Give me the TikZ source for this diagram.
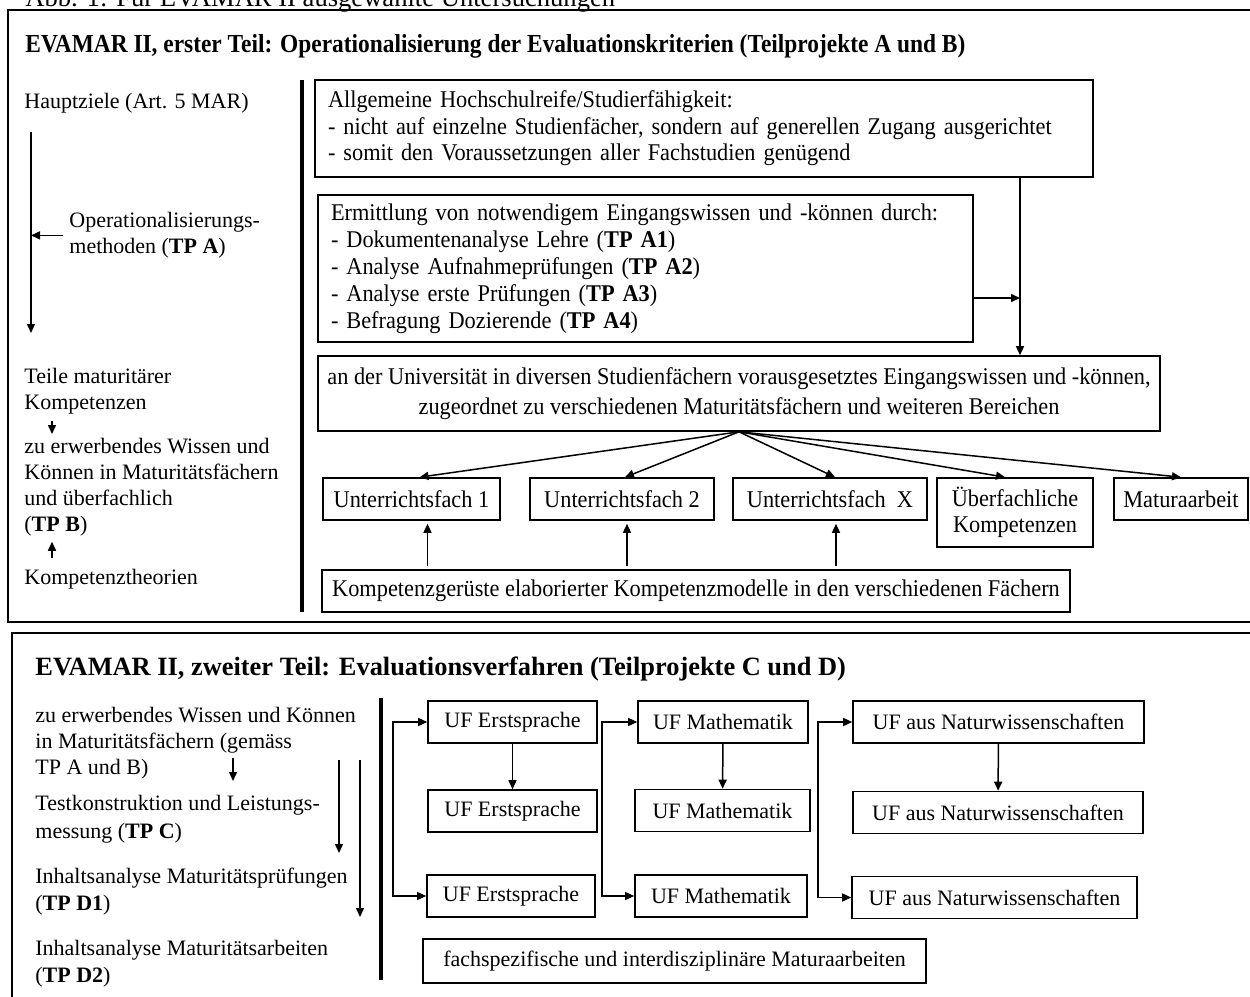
\documentclass[tikz,border=0pt]{standalone}
\usepackage{fontspec}
\setmainfont{Liberation Serif}
\newfontfamily\condfont[FakeStretch=0.93]{Liberation Serif}
\newfontfamily\titlefont[FakeStretch=0.9]{Liberation Serif}
\usetikzlibrary{arrows.meta,positioning,calc}

\tikzset{
  >={Triangle[length=4.5pt,width=4pt]},
  lbl/.style={inner sep=0pt, anchor=north west, align=left, font=\fontsize{11}{13}\selectfont},
  box/.style={draw, line width=0.8pt, inner sep=0pt, font=\condfont\fontsize{12}{13.3}\selectfont},
  ufbox/.style={draw, line width=0.8pt, inner sep=0pt, minimum height=21pt, font=\fontsize{11}{13}\selectfont},
  arr/.style={->, line width=0.75pt},
  sepline/.style={line width=2pt},
  frame/.style={line width=1.2pt},
  heading/.style={inner sep=0pt, anchor=base west, font=\bfseries\fontsize{13.2}{15}\selectfont}
}

\begin{document}
\begin{tikzpicture}[x=0.5pt,y=-0.5pt]
\path[use as bounding box] (0,0) rectangle (1250,997);
\clip (0,0) rectangle (1250,997);

\node[inner sep=0pt, anchor=base west, font=\fontsize{13.3}{16}\selectfont] (abb) at (25,6) {Abb. 1: Für EVAMAR II ausgewählte Untersuchungen};

% erster Teil
\draw[frame] (8,10) rectangle (1262,622);
\node[heading, font=\titlefont\bfseries\fontsize{13}{15}\selectfont] (t1) at (25,52) {EVAMAR II, erster Teil: Operationalisierung der Evaluationskriterien (Teilprojekte A und B)};

\node[lbl, anchor=base west] (hz) at (24,108) {Hauptziele (Art. 5 MAR)};
\node[lbl] (op) at (69,212) {Operationalisierungs-\\methoden (\textbf{TP A})};
\node[lbl] (teile) at (24,368) {Teile maturitärer\\Kompetenzen};
\node[lbl] (zu) at (24,438) {zu erwerbendes Wissen und\\Können in Maturitätsfächern\\und überfachlich\\(\textbf{TP B})};
\node[lbl, anchor=base west] (kt) at (24,584) {Kompetenztheorien};

\coordinate (h1) at (31,132);
\coordinate (h2) at (31,333);
\draw[arr] (h1) -- (h2);
\draw[arr, shorten <=3pt] (op.west) -- (op.west -| h1);
\draw[arr, shorten <=3pt, shorten >=2pt] ([xshift=14pt]teile.south west) -- ([xshift=14pt]zu.north west);
\draw[arr, shorten <=5pt, shorten >=2.5pt] ([xshift=14pt]kt.north west) -- ([xshift=14pt]zu.south west);

\draw[sepline] (302,80) -- (302,612);

\node[box, minimum width=389pt, minimum height=48.5pt, text width=376pt, align=left] (allg) at (704,128.5)
  {Allgemeine Hochschulreife/Studierfähigkeit:\\- nicht auf einzelne Studienfächer, sondern auf generellen Zugang ausgerichtet\\- somit den Voraussetzungen aller Fachstudien genügend};
\node[box, minimum width=327.5pt, minimum height=73.5pt, text width=314.5pt, align=left,
  font=\condfont\fontsize{12}{13.5}\selectfont] (ermit) at (645.5,268.5)
  {Ermittlung von notwendigem Eingangswissen und -können durch:\\- Dokumentenanalyse Lehre (\textbf{TP A1})\\- Analyse Aufnahmeprüfungen (\textbf{TP A2})\\- Analyse erste Prüfungen (\textbf{TP A3})\\- Befragung Dozierende (\textbf{TP A4})};
\node[box, minimum width=421pt, minimum height=37.5pt, align=center,
  font=\condfont\fontsize{12}{15}\selectfont] (univ) at (739,393.5)
  {an der Universität in diversen Studienfächern vorausgesetztes Eingangswissen und -können,\\zugeordnet zu verschiedenen Maturitätsfächern und weiteren Bereichen};

\node[box, minimum width=88.5pt, minimum height=21pt] (uf1) at (411.5,499) {Unterrichtsfach 1};
\node[box, minimum width=92pt, minimum height=21pt] (uf2) at (622,499) {Unterrichtsfach 2};
\node[box, minimum width=97pt, minimum height=21pt] (ufx) at (830,499) {Unterrichtsfach\ \ X};
\node[box, minimum width=78pt, minimum height=34.5pt, align=center] (ueb) at (1015,512.5) {Überfachliche\\Kompetenzen};
\node[box, minimum width=67pt, minimum height=21pt] (mat) at (1181,499) {Maturaarbeit};
\node[box, minimum width=374pt, minimum height=21pt] (kg) at (696,591) {Kompetenzgerüste elaborierter Kompetenzmodelle in den verschiedenen Fächern};

\coordinate (mid) at ([xshift=158pt]allg.south);
\draw[arr] (mid) -- (mid |- univ.north);
\draw[arr] ([yshift=-14.75pt]ermit.east) -- ([yshift=-14.75pt]ermit.east -| mid);
\foreach \n/\s in {uf1/4pt,uf2/1.5pt,ufx/2.5pt,ueb/-5pt,mat/0pt}
  \draw[arr] (univ.south) -- ([xshift=\s]\n.north);
\foreach \n/\s in {uf1/8pt,uf2/2.5pt,ufx/3pt}
  \draw[arr, shorten <=1.5pt, shorten >=1.5pt] ([xshift=\s]kg.north -| \n.south) -- ([xshift=\s]\n.south);

% zweiter Teil
\draw[frame] (12,633) rectangle (1262,1005);
\node[heading] (t2) at (35,675) {EVAMAR II, zweiter Teil: Evaluationsverfahren (Teilprojekte C und D)};

\node[lbl] (wk) at (35,707) {zu erwerbendes Wissen und Können\\in Maturitätsfächern (gemäss\\TP A und B)};
\node[lbl, font=\fontsize{11}{14}\selectfont] (tk) at (35,795) {Testkonstruktion und Leistungs-\\messung (\textbf{TP C})};
\node[lbl, font=\fontsize{11}{13.5}\selectfont] (ip) at (35,868) {Inhaltsanalyse Maturitätsprüfungen\\(\textbf{TP D1})};
\node[lbl, font=\fontsize{11}{13.5}\selectfont] (ia) at (35,940) {Inhaltsanalyse Maturitätsarbeiten\\(\textbf{TP D2})};

\coordinate (a1) at (233,758);
\coordinate (l1) at (339,760);
\coordinate (l2) at (360,760);
\draw[arr, shorten >=7pt] (a1) -- (a1 |- tk.north);
\draw[arr, shorten >=7.5pt] (l1) -- (l1 |- ip.north);
\draw[arr, shorten >=11.5pt] (l2) -- (l2 |- ia.north);

\draw[sepline] (381,698) -- (381,980);

\node[ufbox, minimum width=84.5pt] (es1) at (512.5,722) {UF Erstsprache};
\node[ufbox, minimum width=84.5pt] (es2) at (512.5,811) {UF Erstsprache};
\node[ufbox, minimum width=84pt] (es3) at (511,896) {UF Erstsprache};
\node[ufbox, minimum width=85pt] (ma1) at (723,722) {UF Mathematik};
\node[ufbox, minimum width=87.5pt] (ma2) at (722.5,810.5) {UF Mathematik};
\node[ufbox, minimum width=86pt] (ma3) at (721,896) {UF Mathematik};
\node[ufbox, minimum width=145.5pt] (nw1) at (998.5,722) {UF aus Naturwissenschaften};
\node[ufbox, minimum width=145pt] (nw2) at (998,812.5) {UF aus Naturwissenschaften};
\node[ufbox, minimum width=142.5pt] (nw3) at (994.5,897.5) {UF aus Naturwissenschaften};
\node[ufbox, minimum width=251.5pt, minimum height=22pt] (fa) at (674.5,961) {fachspezifische und interdisziplinäre Maturaarbeiten};

\coordinate (b1) at (393,809);
\coordinate (b2) at (602,809);
\coordinate (b3) at (818,809);
\draw[arr] (b1) |- (es1);
\draw[arr] (b1) |- (es3);
\draw[arr] (b2) |- (ma1);
\draw[arr] (b2) |- (ma3);
\draw[arr] (b3) |- (nw1);
\draw[arr] (b3) |- (nw3);
\draw[arr] (es1) -- (es2);
\draw[arr] (ma1) -- (ma2);
\draw[arr] (nw1) -- (nw2);
\end{tikzpicture}
\end{document}
